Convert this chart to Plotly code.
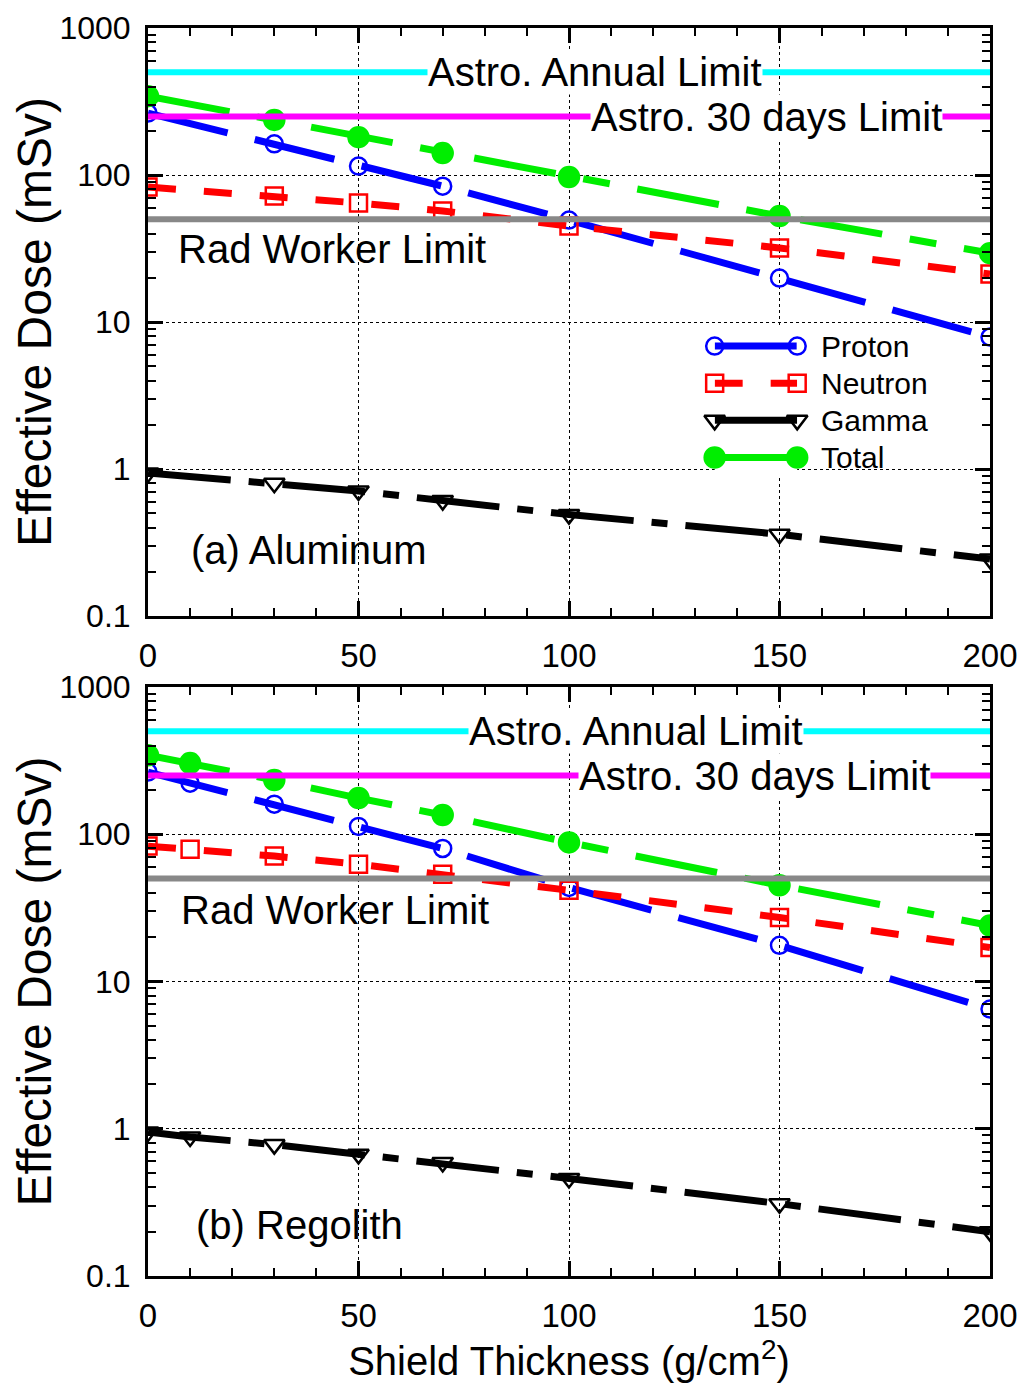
import math

import plotly.graph_objects as go

# ── Data ─────────────────────────────────────────────────────────────────────
# Shield thickness (g/cm^2)
x_al = [0, 30, 50, 70, 100, 150, 200]
x_reg = [0, 10, 30, 50, 70, 100, 150, 200]

# (a) Aluminum, effective dose (mSv)
al_proton = [264, 163, 115, 84, 49.4, 19.9, 7.9]
al_neutron = [82.8, 72, 64.5, 57, 45, 31.9, 21.2]
al_gamma = [0.94, 0.80, 0.71, 0.61, 0.49, 0.36, 0.244]
al_total = [344, 237, 181, 141, 97, 52.6, 29.4]

# (b) Regolith, effective dose (mSv)
reg_proton = [264, 222, 160, 113, 80, 43.5, 17.6, 6.5]
reg_neutron = [83, 79, 71, 62.5, 53.5, 41.6, 27.2, 17]
reg_gamma = [0.95, 0.88, 0.78, 0.67, 0.59, 0.46, 0.31, 0.20]
reg_total = [344, 304, 233, 176, 135, 88, 45, 24]

# Dose limits (mSv)
astro_annual = 500
astro_30days = 250
rad_worker = 50

y_tickvals = [0.1, 1, 10, 100, 1000]
y_ticktext = ["0.1", "1", "10", "100", "1000"]
x_tickvals = [0, 50, 100, 150, 200]

# ── Styles ───────────────────────────────────────────────────────────────────
FONT = "Liberation Sans, Arial, sans-serif"

SERIES = [
    # name, color, dash, marker symbol, marker size
    ("Proton", "#0000FF", "82px,28px", "circle-open", 17),
    ("Neutron", "#FF0000", "28px,28px", "square-open", 17),
    ("Gamma", "#000000", "83px,18px,16px,18px", "triangle-down-open", 18),
    ("Total", "#00EE00", "83px,28px,27px,28px", "circle", 20),
]


def _trace(x, y, spec, xa, ya, cliponaxis=True):
    name, color, dash, symbol, size = spec
    return go.Scatter(
        x=x, y=y, mode="lines+markers", name=name, showlegend=False,
        xaxis=xa, yaxis=ya, cliponaxis=cliponaxis,
        line=dict(color=color, width=7, dash=dash),
        marker=dict(symbol=symbol, size=size, color=color,
                    line=dict(color=color, width=2.5)),
    )


fig = go.Figure()

panels = [
    ("x", "y", x_al, [al_proton, al_neutron, al_gamma, al_total]),
    ("x2", "y2", x_reg, [reg_proton, reg_neutron, reg_gamma, reg_total]),
]
for xa, ya, xs, series in panels:
    for spec, ys in zip(SERIES, series):
        fig.add_trace(_trace(xs, ys, spec, xa, ya))

# legend drawn on an invisible overlay axis (two markers per line, like the original)
leg_x = [0, 1]
for row, spec in enumerate(SERIES):
    fig.add_trace(_trace(leg_x, [row, row], spec, "x3", "y3", cliponaxis=False))
    fig.add_annotation(x=1, y=row, xref="x3", yref="y3", text=spec[0],
                       xanchor="left", xshift=22, showarrow=False,
                       font=dict(size=30, family=FONT, color="black"))

# ── Limit lines and labels ───────────────────────────────────────────────────
limits = [(astro_annual, "#00FFFF"), (astro_30days, "#FF00FF"), (rad_worker, "#888888")]
for xa, ya in [("x", "y"), ("x2", "y2")]:
    for val, col in limits:
        fig.add_shape(type="line", xref=f"{xa} domain", yref=ya, x0=0, x1=1,
                      y0=val, y1=val, line=dict(color=col, width=6), layer="above")

label_font = dict(size=40, family=FONT, color="black")
labels = [
    ("x", "y", 106.2, astro_annual, "Astro. Annual Limit", "center", True),
    ("x", "y", 146.8, astro_30days, "Astro. 30 days Limit", "center", True),
    ("x", "y", 7, 31.4, "Rad Worker Limit", "left", False),
    ("x", "y", 10, 0.28, "(a) Aluminum", "left", False),
    ("x2", "y2", 116, astro_annual, "Astro. Annual Limit", "center", True),
    ("x2", "y2", 144, astro_30days, "Astro. 30 days Limit", "center", True),
    ("x2", "y2", 7.6, 30.4, "Rad Worker Limit", "left", False),
    ("x2", "y2", 11.2, 0.222, "(b) Regolith", "left", False),
]
for xa, ya, xv, yv, txt, anchor, bg in labels:
    # annotations on a log axis take log10 positions
    fig.add_annotation(x=xv, y=math.log10(yv), xref=xa, yref=ya, text=txt,
                       showarrow=False, xanchor=anchor, yanchor="middle",
                       font=label_font,
                       bgcolor="white" if bg else "rgba(0,0,0,0)", borderpad=0)

# ── Axes ─────────────────────────────────────────────────────────────────────
minor_log = [m * 10 ** e for e in range(-1, 3) for m in range(2, 10)]

xaxis_common = dict(
    range=[0, 200], tickvals=x_tickvals, ticks="inside", ticklen=15, tickwidth=3,
    tickcolor="black", showline=True, linewidth=3, linecolor="black", mirror="ticks",
    showgrid=True, gridcolor="black", griddash="dot", gridwidth=1.2, zeroline=False,
    tickfont=dict(size=33, family=FONT, color="black"), ticklabelstandoff=8,
    automargin=False, ticklabeloverflow="allow",
    minor=dict(dtick=10, ticks="inside", ticklen=8, tickwidth=2, tickcolor="black",
               showgrid=False),
)
yaxis_common = dict(
    type="log", range=[-1, 3], tickvals=y_tickvals, ticktext=y_ticktext,
    ticks="inside", ticklen=15, tickwidth=3, tickcolor="black",
    showline=True, linewidth=3, linecolor="black", mirror="ticks",
    showgrid=True, gridcolor="black", griddash="dot", gridwidth=1.2, zeroline=False,
    tickfont=dict(size=32, family=FONT, color="black"), ticklabelstandoff=8,
    automargin=False, ticklabeloverflow="allow",
    minor=dict(tickvals=minor_log, ticks="inside", ticklen=8, tickwidth=2,
               tickcolor="black", showgrid=False),
    title=dict(text="Effective Dose (mSv)", font=dict(size=48, family=FONT, color="black"),
               standoff=4),
)

# page body adds an 8px margin, so the figure is a little smaller than the window
fig.update_layout(
    width=1018, height=1380,
    margin=dict(l=140, r=36, t=20, b=112),
    paper_bgcolor="white", plot_bgcolor="white",
    font=dict(family=FONT, color="black"),
    showlegend=False,
    xaxis=dict(**xaxis_common, domain=[0, 1], anchor="y"),
    yaxis=dict(**yaxis_common, domain=[0.5288, 1], anchor="x"),
    xaxis2=dict(**xaxis_common, domain=[0, 1], anchor="y2",
                title=dict(text="Shield Thickness (g/cm<sup>2</sup>)",
                           font=dict(size=40, family=FONT, color="black"), standoff=12)),
    yaxis2=dict(**yaxis_common, domain=[0, 0.472], anchor="x2"),
    xaxis3=dict(domain=[0.673, 0.771], range=[0, 1], visible=False, anchor="y3"),
    yaxis3=dict(domain=[0.641, 0.760], range=[3.5, -0.5], visible=False, anchor="x3"),
)

fig.write_html("out.html")
